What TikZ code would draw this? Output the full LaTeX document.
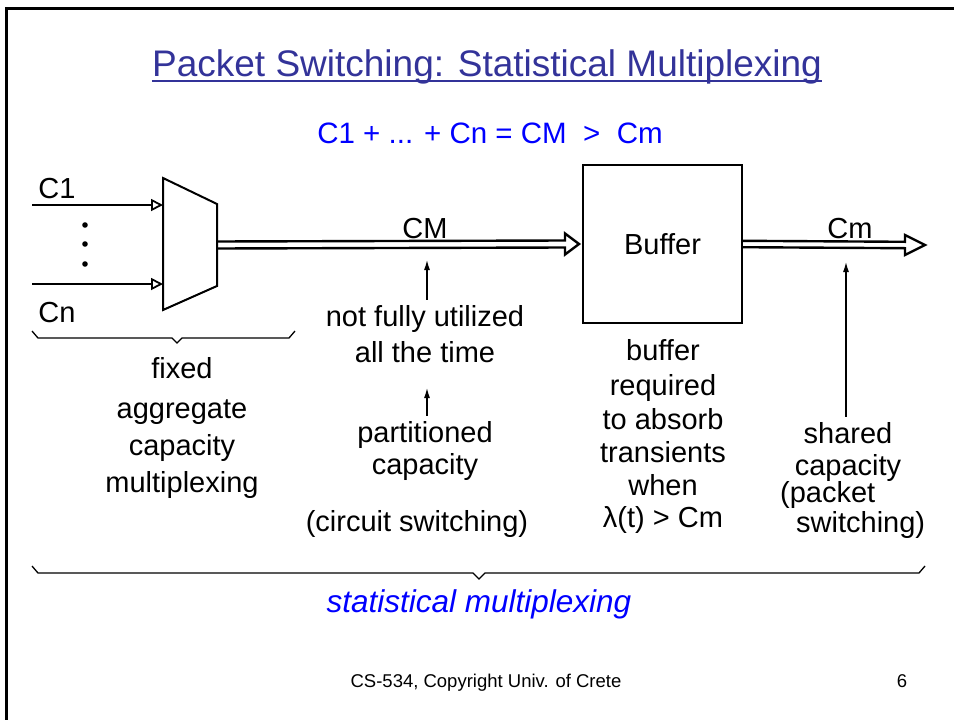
\documentclass[tikz,border=0pt]{standalone}
\usepackage{fontspec}
\setmainfont{Liberation Sans}
\usetikzlibrary{arrows.meta,calc}
\definecolor{titleblue}{HTML}{333399}
\definecolor{brightblue}{HTML}{0000FF}
\begin{document}
\begin{tikzpicture}[x=1pt,y=-1pt,
  txt/.style={inner sep=0pt, anchor=base, font=\fontsize{29}{34}\selectfont},
  thinarrow/.style={-{Latex[length=10pt,width=6pt]}, line width=1.2pt},
  inarrow/.style={-{Triangle[open,length=12pt,width=12pt]}, line width=1.8pt},
  fat/.style={line width=2.4pt, line join=miter},
  bracestyle/.style={line width=1.3pt},
  boxstyle/.style={draw, line width=2pt, minimum width=159pt, minimum height=158pt, inner sep=0pt, font=\fontsize{29}{34}\selectfont}]
\useasboundingbox (0,0) rectangle (954,720);
% frame
\draw[line width=3pt] (6.5,730) -- (6.5,8.5) -- (960,8.5);
% title
\node[inner sep=0pt, anchor=base, text=titleblue, font=\fontsize{37}{42}\selectfont] (title) at (487,76) {Packet Switching: Statistical Multiplexing};
\draw[titleblue, line width=2pt] (title.west |- 0,81) -- (title.east |- 0,81);
\node[inner sep=0pt, anchor=base, text=brightblue, font=\fontsize{29.5}{34}\selectfont] (formula) at (490,143) {C1 + ... + Cn = CM \ > \ Cm};
% multiplexer
\coordinate (m1) at (163,178);
\coordinate (m2) at (217,204);
\coordinate (m3) at (217,286);
\coordinate (m4) at (163,310);
\draw[fat, line width=2pt] (m1) -- (m2) -- (m3) -- (m4) -- cycle;
\coordinate (in1) at (32,205);
\coordinate (inn) at (32,284);
\coordinate (mux1) at (163,205);
\coordinate (muxn) at (163,284);
\draw[inarrow] (in1) -- (mux1);
\draw[inarrow] (inn) -- (muxn);
\node[txt] (c1) at (57,198) {C1};
\node[txt] (cn) at (57,322) {Cn};
\foreach \yy/\nm in {225/d1,244/d2,264/d3} \fill (85,\yy) circle (2.8pt) coordinate (\nm);
% buffer
\node[boxstyle] (buf) at (662.5,244) {Buffer};
\coordinate (muxout) at (217,245);
% CM double arrow
\draw[fat] ($(muxout)+(0,-3.5)$) -- ($(buf.west)+(-17,-3.5)$) -- ($(buf.west)+(-17,-10.5)$)
  -- ($(buf.west)+(-3,0)$) -- ($(buf.west)+(-17,10.5)$) -- ($(buf.west)+(-17,3.5)$) -- ($(muxout)+(0,3.5)$);
% Cm double arrow
\coordinate (outtip) at (925,245);
\draw[fat] ($(buf.east)+(0,-3.2)$) -- ($(outtip)+(-20,-3.2)$) -- ($(outtip)+(-20,-10)$)
  -- (outtip) -- ($(outtip)+(-20,10)$) -- ($(outtip)+(-20,3.2)$) -- ($(buf.east)+(0,3.2)$);
\node[txt] (cmlab) at (425,238) {CM};
\node[txt] (cmoutlab) at (850,238) {Cm};
% left brace
\draw[bracestyle] (32,331) -- (38,338) -- (172,338) -- (177,343) -- (182,338) -- (289,338) -- (295,331);
\node[txt] (l1) at (182,378) {fixed};
\node[txt] (l2) at (182,418) {aggregate};
\node[txt] (l3) at (182,455) {capacity};
\node[txt] (l4) at (182,492) {multiplexing};
% middle column
\node[txt] (nfu) at (425,326) {not fully utilized};
\node[txt] (att) at (425,362) {all the time};
\node[txt] (part) at (425,442) {partitioned};
\node[txt] (pcap) at (425,474) {capacity};
\node[txt] (circ) at (417,531) {(circuit switching)};
\coordinate (tipa) at (427,260);
\coordinate (tipb) at (427,388);
\draw[thinarrow] (tipa |- nfu.north) ++(0,-5) -- (tipa);
\draw[thinarrow] (tipb |- part.north) ++(0,-5) -- (tipb);
% buffer column
\node[txt] (b1) at (663,360) {buffer};
\node[txt] (b2) at (663,395) {required};
\node[txt] (b3) at (663,429) {to absorb};
\node[txt] (b4) at (663,462.5) {transients};
\node[txt] (b5) at (663,495) {when};
\node[txt] (b6) at (663,527) {λ(t) > Cm};
% right column
\node[txt] (r1) at (848,443) {shared};
\node[txt] (r2) at (848,475) {capacity};
\node[txt, anchor=base west] (r3) at (780,502) {(packet};
\node[txt, anchor=base west] (r4) at (796,532) {switching)};
\coordinate (tipc) at (846,262);
\draw[thinarrow] (tipc |- r1.north) ++(0,-5) -- (tipc);
% bottom brace
\draw[bracestyle] (32,566) -- (38,573) -- (473,573) -- (479,579) -- (485,573) -- (919,573) -- (925,566);
\node[inner sep=0pt, anchor=base, text=brightblue, font=\fontsize{31.5}{36}\itshape\selectfont] (stat) at (479,612) {statistical multiplexing};
% footer
\node[inner sep=0pt, anchor=base, font=\fontsize{18.5}{22}\selectfont] (foot) at (486,687) {CS-534, Copyright Univ. of Crete};
\node[inner sep=0pt, anchor=base, font=\fontsize{18.5}{22}\selectfont] (pnum) at (902,687) {6};
\end{tikzpicture}
\end{document}
